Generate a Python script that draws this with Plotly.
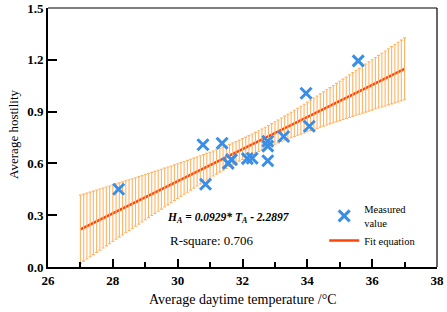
import numpy as np
import plotly.graph_objects as go

# Measured points
temperature = [28.18, 30.78, 30.86, 31.37, 31.56, 31.66, 32.15, 32.30, 32.78, 32.78, 32.78, 33.27, 33.96, 34.06, 35.57]
hostility = [0.45, 0.708, 0.479, 0.717, 0.600, 0.622, 0.628, 0.630, 0.700, 0.728, 0.615, 0.756, 1.006, 0.815, 1.194]

# Fit equation shown on the chart
slope = 0.0929
intercept = -2.2897
fit_start, fit_end, fit_step = 27.0, 37.0, 0.1
t_value = 2.1604  # 95% two-sided, df = n - 2 = 13

x_ticks = [26, 28, 30, 32, 34, 36, 38]
y_ticks = [0.0, 0.3, 0.6, 0.9, 1.2, 1.5]

# Derived: fitted line and 95% confidence band of the regression
tx = np.array(temperature)
hy = np.array(hostility)
n = len(tx)
resid = hy - (slope * tx + intercept)
se = np.sqrt(np.sum(resid ** 2) / (n - 2))
sxx = np.sum((tx - tx.mean()) ** 2)
fit_x = np.round(np.arange(fit_start, fit_end + fit_step / 2, fit_step), 1)
fit_y = slope * fit_x + intercept
half = t_value * se * np.sqrt(1.0 / n + (fit_x - tx.mean()) ** 2 / sxx)

SERIF = '"Liberation Serif", "Times New Roman", serif'

fig = go.Figure()
fig.add_trace(go.Scatter(
    x=fit_x, y=fit_y, mode="lines", name="Fit equation",
    line=dict(color="#FF4208", width=2.5),
))
fig.add_trace(go.Scatter(
    x=fit_x, y=fit_y, mode="markers", showlegend=False, hoverinfo="skip",
    marker=dict(size=0.1, color="rgba(0,0,0,0)"),
    error_y=dict(type="data", array=half, symmetric=True, color="#FFB466",
                 thickness=1.1, width=1.5),
))
fig.add_trace(go.Scatter(
    x=temperature, y=hostility, mode="markers", name="Measured<br>value",
    marker=dict(symbol="x-thin", size=11, color="#3A8EE6",
                line=dict(color="#3A8EE6", width=3)),
))

fig.update_layout(
    width=447, height=312,
    margin=dict(l=48, r=10, t=8, b=45, autoexpand=False),
    plot_bgcolor="white", paper_bgcolor="white",
    font=dict(family=SERIF, color="black"),
    legend=dict(x=0.71, y=0.275, xanchor="left", yanchor="top",
                font=dict(family=SERIF, size=10.5), bgcolor="rgba(0,0,0,0)",
                tracegroupgap=0, itemwidth=30, traceorder="reversed"),
    shapes=[
        dict(type="line", xref="paper", yref="paper", x0=0, x1=1, y0=1, y1=1,
             line=dict(color="black", width=1.2)),
        dict(type="line", xref="paper", yref="paper", x0=1, x1=1, y0=0, y1=1,
             line=dict(color="black", width=1.2)),
    ],
    annotations=[
        dict(x=0.3, y=0.189, xref="paper", yref="paper", xanchor="left", yanchor="middle",
             showarrow=False,
             text="<i><b>H<sub>A</sub> = 0.0929* T<sub>A</sub> - 2.2897</b></i>",
             font=dict(family=SERIF, size=11.5)),
        dict(x=0.3085, y=0.104, xref="paper", yref="paper", xanchor="left", yanchor="middle",
             showarrow=False, text="R-square: 0.706",
             font=dict(family=SERIF, size=13)),
        dict(x=0.501, y=-0.127, xref="paper", yref="paper", xanchor="center", yanchor="middle",
             showarrow=False, text="Average daytime temperature /°C",
             font=dict(family=SERIF, size=14)),
        dict(x=-0.0874, y=0.51, xref="paper", yref="paper", xanchor="center", yanchor="middle",
             showarrow=False, text="Average hostility", textangle=-90,
             font=dict(family=SERIF, size=13)),
    ],
)

fig.update_xaxes(
    range=[26, 38], tickvals=x_ticks, ticktext=[f"<b>{v}</b>" for v in x_ticks],
    ticks="inside", ticklen=8, tickwidth=1.5, tickcolor="black",
    minor=dict(dtick=1, ticks="inside", ticklen=5, tickwidth=1.5, tickcolor="black"),
    showline=True, linewidth=2, linecolor="black", showgrid=False, zeroline=False,
    tickfont=dict(family=SERIF, size=13), automargin=False,
)
fig.update_yaxes(
    range=[0, 1.5], tickvals=y_ticks, ticktext=[f"<b>{v:.1f}</b>" for v in y_ticks],
    ticks="inside", ticklen=9, tickwidth=1.5, tickcolor="black",
    showline=True, linewidth=2, linecolor="black", showgrid=False, zeroline=False,
    tickfont=dict(family=SERIF, size=13), automargin=False,
)

fig.write_html("out.html", config={"displayModeBar": False},
               post_script="document.body.style.margin='0px';")
